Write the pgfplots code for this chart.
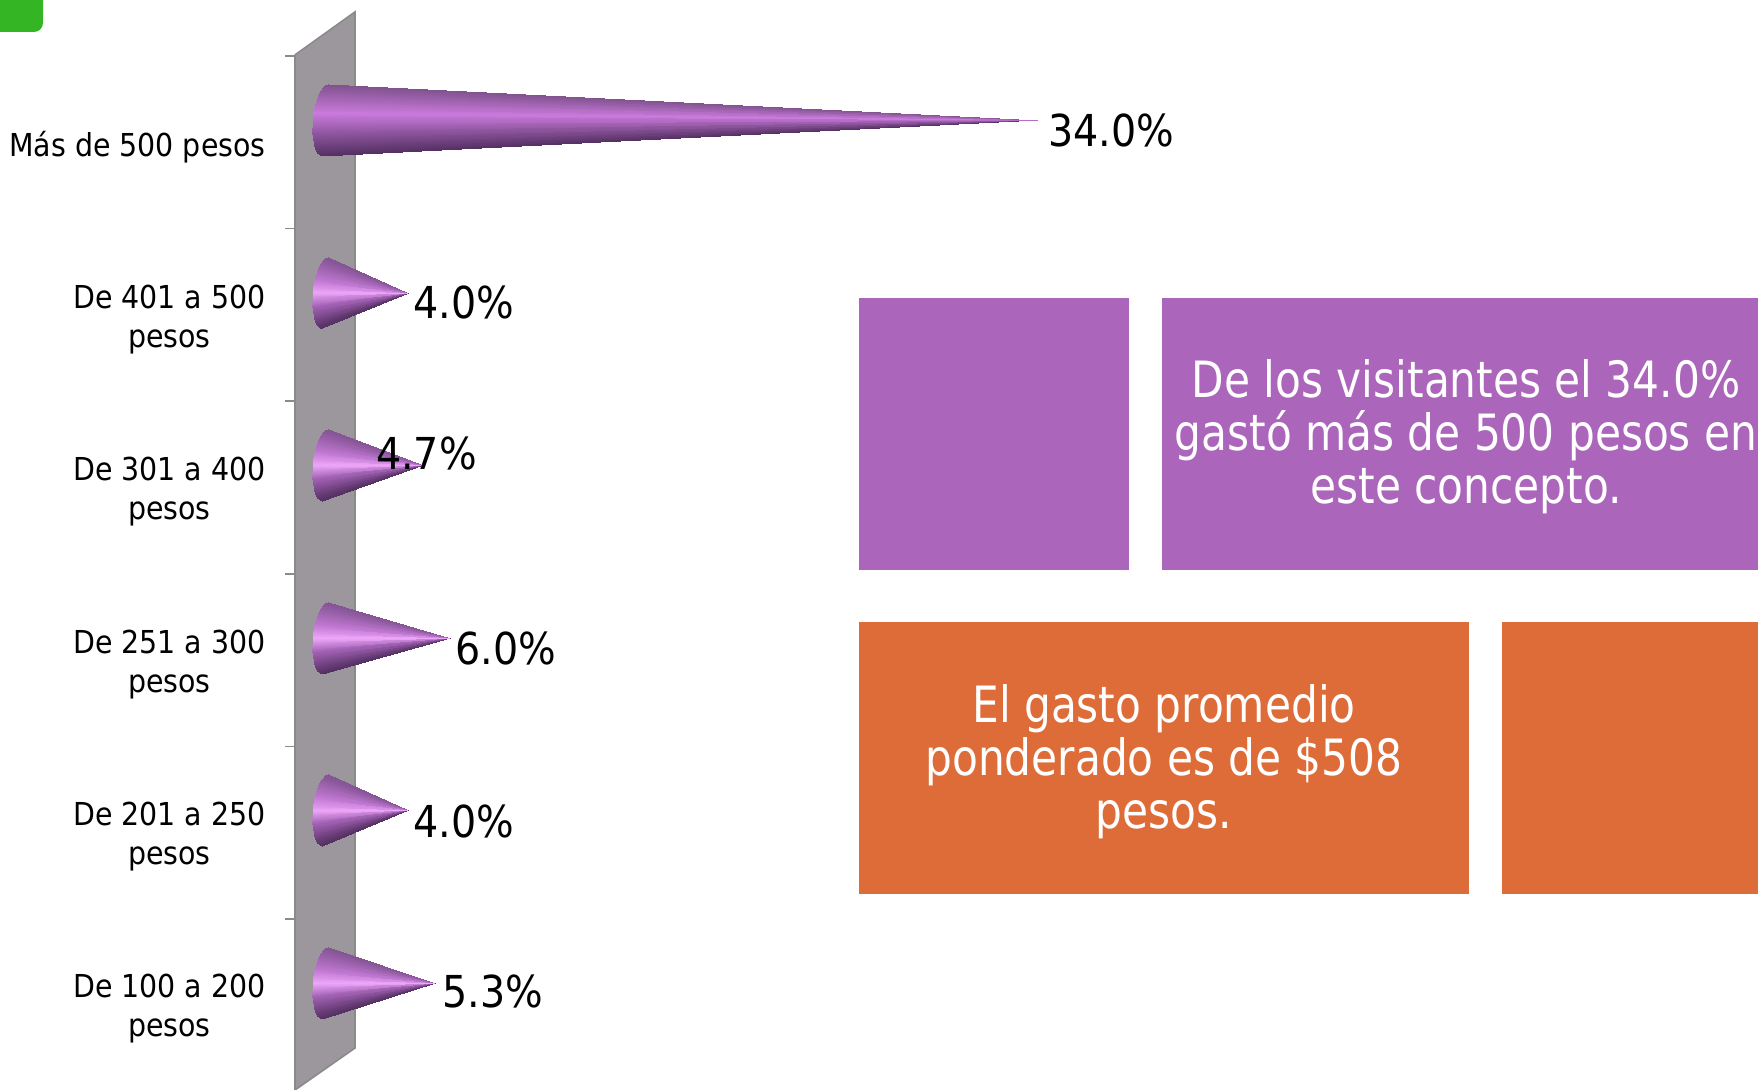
\documentclass[border=0pt]{standalone}
\usepackage{fontspec}
\setmainfont{DejaVu Sans Condensed}
\usepackage{pgfplots}
\usepackage{pgfplotstable}
\pgfplotsset{compat=1.18}
\usepgfplotslibrary{patchplots}
\definecolor{WallGrey}{HTML}{9C979C}
\definecolor{WallEdge}{HTML}{8A8A8A}
\definecolor{BoxPurple}{HTML}{AB65BB}
\definecolor{BoxOrange}{HTML}{DE6C38}
\definecolor{TabGreen}{HTML}{33B524}

% spend per category: row, percent, label shift in pt
\pgfplotstableread{
row val dx dy
0 5.3 3.5 -4.5
1 4.0 2.5 -5.5
2 6.0 2.5 -5.5
3 4.7 -23.5 6
4 4.0 2.5 -5
5 34.0 5 -5.5
}\spend

% cone template: base arc point, t=1 marks the tip, c is the shade
\pgfplotstableread{
bx by t c
.19 .208 0 0
.058 .203 0 .012
0 0 1 .006
.058 .203 0 .012
-.074 .190 0 .043
0 0 1 .028
-.074 .190 0 .043
-.203 .168 0 .096
0 0 1 .07
-.203 .168 0 .096
-.319 .139 0 .166
0 0 1 .131
-.319 .139 0 .166
-.420 .104 0 .25
0 0 1 .208
-.420 .104 0 .25
-.500 .064 0 .346
0 0 1 .298
-.500 .064 0 .346
-.557 .022 0 .447
0 0 1 .397
-.557 .022 0 .447
-.587 -.022 0 .553
0 0 1 .5
-.587 -.022 0 .553
-.590 -.064 0 .654
0 0 1 .603
-.590 -.064 0 .654
-.565 -.104 0 .75
0 0 1 .702
-.565 -.104 0 .75
-.513 -.139 0 .834
0 0 1 .792
-.513 -.139 0 .834
-.437 -.168 0 .904
0 0 1 .869
-.437 -.168 0 .904
-.340 -.190 0 .957
0 0 1 .93
-.340 -.190 0 .957
-.226 -.203 0 .988
0 0 1 .972
-.226 -.203 0 .988
-.100 -.208 0 1
0 0 1 .994
}\conemesh

\newcommand{\cone}[3]{%
  \addplot[patch, patch type=triangle, shader=interp, colormap name=#3, point meta=\thisrow{c}]
    table[x expr={\thisrow{t}*#2+(1-\thisrow{t})*0.93*\thisrow{bx}},
          y expr={#1+(1-\thisrow{t})*\thisrow{by}}] {\conemesh};
}

\begin{document}
\begin{tikzpicture}
\path[use as bounding box] (0,0) rectangle (879pt,545pt);
\begin{axis}[
  scale only axis, width=879pt, height=545pt,
  xmin=-15.43, xmax=68.29, ymin=-0.62, ymax=5.695,
  hide axis, clip=true,
  point meta min=0, point meta max=1,
  colormap={coneSmall}{rgb255(0cm)=(132,84,148); rgb255(3cm)=(190,118,208); rgb255(5cm)=(236,165,248); rgb255(7cm)=(160,96,178); rgb255(10cm)=(84,48,98)},
  colormap={coneLong}{rgb255(0cm)=(128,82,142); rgb255(4cm)=(202,122,220); rgb255(7cm)=(140,84,156); rgb255(10cm)=(84,48,98)},
]
% back wall and its ticks
\addplot[fill=WallGrey, draw=WallEdge, thick] coordinates {
  (-1.381,5.377) (1.476,5.626) (1.476,-0.377) (-1.381,-0.62) (-1.381,5.377)};
\addplot[WallEdge, thick] coordinates {
  (-1.857,5.37) (-1.381,5.37)

  (-1.857,4.37) (-1.381,4.37)

  (-1.857,3.37) (-1.381,3.37)

  (-1.857,2.37) (-1.381,2.37)

  (-1.857,1.37) (-1.381,1.37)

  (-1.857,0.37) (-1.381,0.37)};

\cone{0}{5.3}{coneSmall}
\cone{1}{4.0}{coneSmall}
\cone{2}{6.0}{coneSmall}
\cone{3}{4.7}{coneSmall}
\cone{4}{4.0}{coneSmall}
\cone{5}{34.0}{coneLong}

\addplot[only marks, mark size=0pt, point meta=x,
  visualization depends on={\thisrow{dx} \as \lx},
  visualization depends on={\thisrow{dy} \as \ly},
  nodes near coords={\pgfmathprintnumber[/pgf/number format/assume math mode=true,fixed,fixed zerofill,precision=1]{\pgfplotspointmeta}\%},
  every node near coord/.style={anchor=west, inner sep=0pt, xshift=\lx pt, yshift=\ly pt, font=\fontsize{22}{24}\selectfont, text=black},
] table[x=val, y=row] {\spend};
\end{axis}

\begin{scope}[x=0.5pt, y=-0.5pt, yshift=545pt]
\fill[TabGreen, rounded corners=4.5pt] (-20,-20) rectangle (43,32);
\fill[BoxPurple] (859,298) rectangle (1129,570);
\fill[BoxPurple] (1162,298) rectangle (1770,570);
\fill[BoxOrange] (859,622) rectangle (1469,894);
\fill[BoxOrange] (1502,622) rectangle (1770,894);
\begin{scope}[every node/.style={align=center, text=white, inner sep=0pt, xscale=.94, font=\fontsize{25}{26.5}\selectfont}]
\node at (1466,437) {De los visitantes el 34.0\%\\gastó más de 500 pesos en\\este concepto.};
\node at (1164,762) {El gasto promedio\\ponderado es de \$508\\pesos.};
\end{scope}
\begin{scope}[every node/.style={anchor=east, align=center, inner sep=0pt, font=\fontsize{15.8}{19.5}\selectfont}]
\node at (266,147) {Más de 500 pesos};
\node at (266,320) {De 401 a 500\\pesos};
\node at (266,492) {De 301 a 400\\pesos};
\node at (266,665) {De 251 a 300\\pesos};
\node at (266,837) {De 201 a 250\\pesos};
\node at (266,1009) {De 100 a 200\\pesos};
\end{scope}
\end{scope}
\end{tikzpicture}
\end{document}
